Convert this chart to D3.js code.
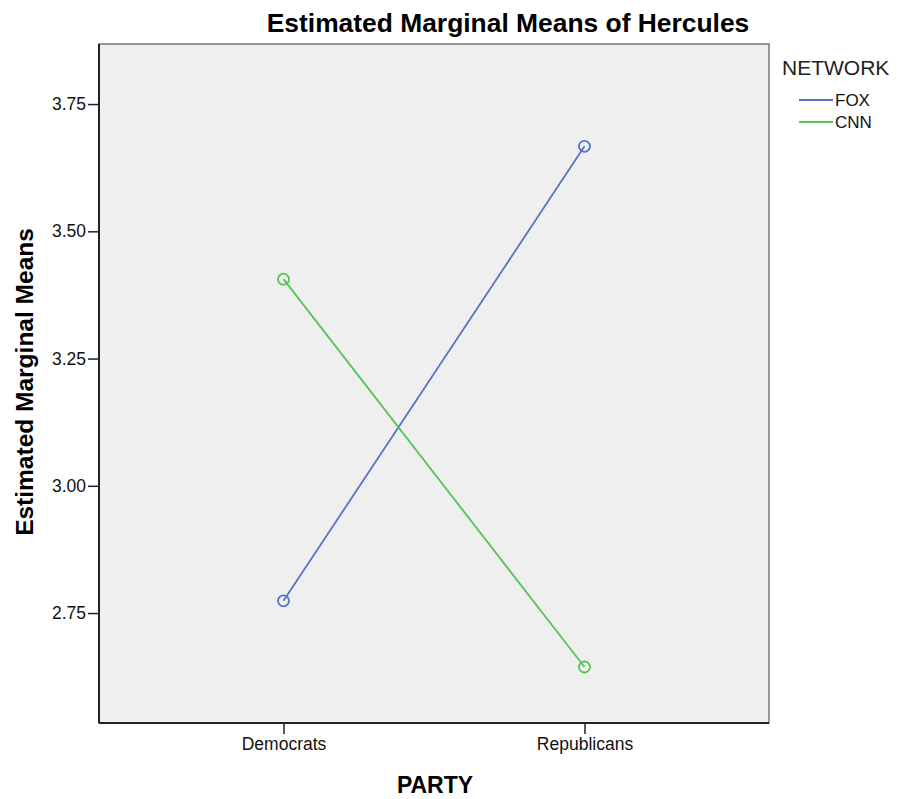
<!DOCTYPE html>
<html>
<head>
<meta charset="utf-8">
<script src="https://cdn.jsdelivr.net/npm/d3@7"></script>
<style>
  body { margin: 0; background: #fff; }
  text { font-family: "Liberation Sans", Arial, sans-serif; fill: #000; }
</style>
</head>
<body>
<script>
'use strict';

// data
const parties = ["Democrats", "Republicans"];
const networks = ["FOX", "CNN"];
const foxMeans = [2.774, 3.667];
const cnnMeans = [3.406, 2.644];
const yTicks = [2.75, 3.00, 3.25, 3.50, 3.75];
const lineColors = ["#5a72c8", "#55c455"];

(function() {
  const svg = d3.select('body').append('svg')
    .attr('width', 897)
    .attr('height', 799);

  // plot frame
  const left = 99, right = 769, top = 44, bottom = 723;

  let xScale = d3.scalePoint()
    .domain(parties)
    .range([left, right])
    .padding(0.613);

  let yScale = d3.scaleLinear()
    .domain([2.534, 3.868])
    .range([bottom, top]);

  svg.append('rect')
    .attr('x', left).attr('y', top)
    .attr('width', right - left).attr('height', bottom - top)
    .style('fill', '#efefef')
    .style('stroke', '#777')
    .style('stroke-width', 1.5);

  // axes
  let xAxis = d3.axisBottom(xScale).tickSize(11).tickPadding(4);
  let gx = svg.append('g')
    .attr('transform', `translate(0, ${bottom})`)
    .call(xAxis);

  let yAxis = d3.axisLeft(yScale)
    .tickValues(yTicks)
    .tickFormat(d3.format('.2f'))
    .tickSize(11).tickPadding(2);
  let gy = svg.append('g')
    .attr('transform', `translate(${left}, 0)`)
    .call(yAxis);

  [gx, gy].forEach(g => {
    g.select('.domain').remove();
    g.selectAll('line').style('stroke', '#222').style('stroke-width', 1.5);
    g.selectAll('text')
      .style('font-size', '17.5px')
      .style('font-family', '"Liberation Sans", Arial, sans-serif')
      .style('fill', '#111');
  });

  // left and bottom axis lines
  svg.append('line')
    .attr('x1', left).attr('x2', left).attr('y1', top).attr('y2', bottom)
    .style('stroke', '#222').style('stroke-width', 2);
  svg.append('line')
    .attr('x1', left).attr('x2', right).attr('y1', bottom).attr('y2', bottom)
    .style('stroke', '#222').style('stroke-width', 2);

  // series lines and markers
  let series = [foxMeans, cnnMeans];
  let line = d3.line()
    .x((d, i) => xScale(parties[i]))
    .y(d => yScale(d));

  series.forEach((vals, s) => {
    svg.append('path')
      .datum(vals)
      .attr('d', line)
      .style('fill', 'none')
      .style('stroke', lineColors[s])
      .style('stroke-width', 1.8);

    svg.selectAll('.dot' + s)
      .data(vals)
      .enter()
      .append('circle')
        .attr('cx', (d, i) => xScale(parties[i]))
        .attr('cy', d => yScale(d))
        .attr('r', 5.5)
        .style('fill', 'none')
        .style('stroke', lineColors[s])
        .style('stroke-width', 1.8);
  });

  // titles
  svg.append('text')
    .attr('x', 508).attr('y', 32)
    .attr('text-anchor', 'middle')
    .style('font-size', '26.4px')
    .style('font-weight', 'bold')
    .text('Estimated Marginal Means of Hercules');

  svg.append('text')
    .attr('x', 435).attr('y', 793)
    .attr('text-anchor', 'middle')
    .style('font-size', '23px')
    .style('font-weight', 'bold')
    .text('PARTY');

  svg.append('text')
    .attr('transform', 'translate(33, 382)rotate(-90)')
    .attr('text-anchor', 'middle')
    .style('font-size', '24.5px')
    .style('font-weight', 'bold')
    .text('Estimated Marginal Means');

  // legend
  svg.append('text')
    .attr('x', 782).attr('y', 75)
    .style('font-size', '21px')
    .style('fill', '#222')
    .text('NETWORK');

  networks.forEach((n, i) => {
    let y = 100 + i * 22;
    svg.append('line')
      .attr('x1', 799).attr('x2', 833)
      .attr('y1', y).attr('y2', y)
      .style('stroke', lineColors[i])
      .style('stroke-width', 1.8);
    svg.append('text')
      .attr('x', 835).attr('y', y + 6)
      .style('font-size', '17px')
      .style('fill', '#111')
      .text(n);
  });
})();
</script>
</body>
</html>
